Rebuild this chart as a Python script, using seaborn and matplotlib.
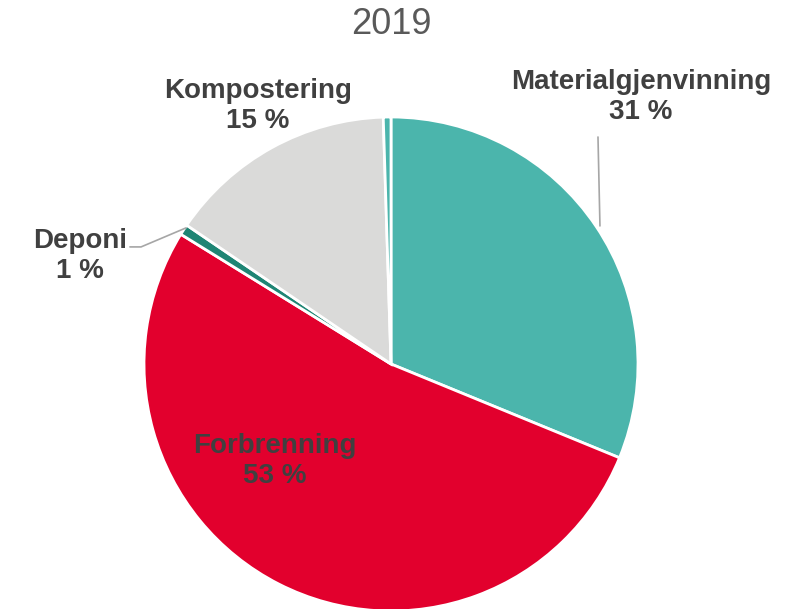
import matplotlib
matplotlib.use("Agg")
import matplotlib.pyplot as plt
import seaborn as sns

categories = ["Materialgjenvinning", "Forbrenning", "Deponi", "Kompostering", "Annet"]
shares = [31.2, 52.6, 0.7, 15.0, 0.5]
pct_labels = ["31 %", "53 %", "1 %", "15 %", ""]
colors = ["#4BB5AC", "#E2002D", "#1E8574", "#DADAD9", "#4BB5AC"]

sns.set_theme(style="white")
plt.rcParams['font.family'] = ['Liberation Sans', 'DejaVu Sans']

fig = plt.figure(figsize=(7.97, 6.09), dpi=100)
ax = fig.add_axes([144 / 797, -2 / 609, 494 / 797, 494 / 609])

wedges, _ = ax.pie(shares, colors=colors, startangle=90, counterclock=False,
                   wedgeprops=dict(edgecolor="white", linewidth=2))
for w in wedges:
    w.set_clip_on(False)
ax.set_xlim(-1, 1)
ax.set_ylim(-1, 1)
ax.set_aspect("equal")
ax.axis("off")

txt = "#404040"
# label centres in pie coordinates (radius = 1)
label_pos = {
    "Materialgjenvinning": (1.012, 1.080),
    "Forbrenning": (-0.47, -0.393),
    "Deponi": (-1.259, 0.437),
    "Kompostering": (-0.538, 1.045),
}
for cat, pct in zip(categories, pct_labels):
    if cat not in label_pos:
        continue
    x, y = label_pos[cat]
    ax.text(x, y, f"{cat}\n{pct}", ha="center", va="center", fontsize=20,
            fontweight="bold", color=txt, linespacing=1.2, clip_on=False)

# leader lines
ax.plot([0.838, 0.846], [0.919, 0.559], color="#A6A6A6", lw=1.2, clip_on=False)
ax.plot([-1.057, -1.012, -0.830], [0.474, 0.474, 0.551], color="#A6A6A6", lw=1.2, clip_on=False)

fig.text(391 / 797, 1 - 25 / 609, "2019", ha="center", va="center", fontsize=26, color="#595959")

fig.savefig("out.png", dpi=100)
